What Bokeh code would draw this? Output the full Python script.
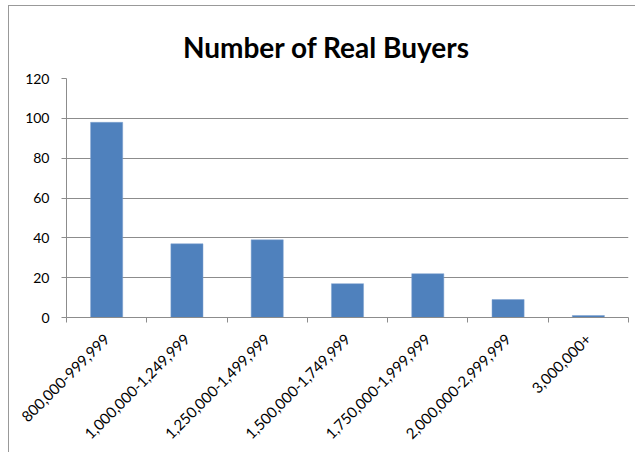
import math
from bokeh.plotting import figure
from bokeh.models import Range1d, FixedTicker
from bokeh.embed import file_html
from bokeh.resources import INLINE

title_text = "Number of Real Buyers"
categories = ["800,000-999,999", "1,000,000-1,249,999", "1,250,000-1,499,999",
              "1,500,000-1,749,999", "1,750,000-1,999,999", "2,000,000-2,999,999",
              "3,000,000+"]
buyers = [98, 37, 39, 17, 22, 9, 1]
y_ticks = [0, 20, 40, 60, 80, 100, 120]

n = len(categories)
centers = [i + 0.5 for i in range(n)]
bounds = list(range(n + 1))

FONT = "Lato"
GRAY = "#8c8c8c"

p = figure(width=627, height=447, output_backend="svg", toolbar_location=None,
           x_range=Range1d(0, n), y_range=Range1d(y_ticks[0], y_ticks[-1]),
           min_border_left=57, min_border_right=8, min_border_top=72,
           min_border_bottom=136)

p.title.text = title_text
p.title.align = "center"
p.title.text_font = FONT
p.title.text_font_size = "28px"
p.title.text_font_style = "bold"
p.title.text_color = "#000000"
p.title.padding = {"left": 0, "right": 42, "top": 0, "bottom": 10}

p.vbar(x=centers, top=buyers, width=0.4, fill_color="#4F81BD",
       line_color="#7ea3d1", line_width=0.5)

p.outline_line_color = None
p.background_fill_color = "white"
p.border_fill_color = "white"
p.styles = {"margin-left": "8px", "margin-top": "5px",
            "border-left": "1px solid #999999", "border-top": "1px solid #999999"}

# y axis
p.yaxis.ticker = FixedTicker(ticks=y_ticks)
p.yaxis.axis_line_color = GRAY
p.yaxis.major_tick_line_color = GRAY
p.yaxis.major_tick_in = 0
p.yaxis.major_tick_out = 5
p.yaxis.minor_tick_line_color = None
p.yaxis.major_label_text_font = FONT
p.yaxis.major_label_text_font_size = "14px"
p.yaxis.major_label_text_color = "#000000"
p.yaxis.major_label_standoff = 12

p.ygrid.ticker = FixedTicker(ticks=y_ticks)
p.ygrid.grid_line_color = GRAY
p.ygrid.grid_line_width = 1
p.xgrid.grid_line_color = None

# x axis: labels at centres, tick marks at category boundaries
p.xaxis.ticker = FixedTicker(ticks=centers, minor_ticks=bounds)
p.xaxis.major_label_overrides = {c: lab for c, lab in zip(centers, categories)}
p.xaxis.axis_line_color = GRAY
p.xaxis.major_tick_line_color = None
p.xaxis.major_tick_in = 0
p.xaxis.major_tick_out = 0
p.xaxis.minor_tick_line_color = GRAY
p.xaxis.minor_tick_in = 0
p.xaxis.minor_tick_out = 5
p.xaxis.major_label_orientation = math.pi / 4
p.xaxis.major_label_text_font = FONT
p.xaxis.major_label_text_font_size = "15px"
p.xaxis.major_label_text_color = "#000000"
p.xaxis.major_label_standoff = 14

open("out.html", "w").write(file_html(p, INLINE))
